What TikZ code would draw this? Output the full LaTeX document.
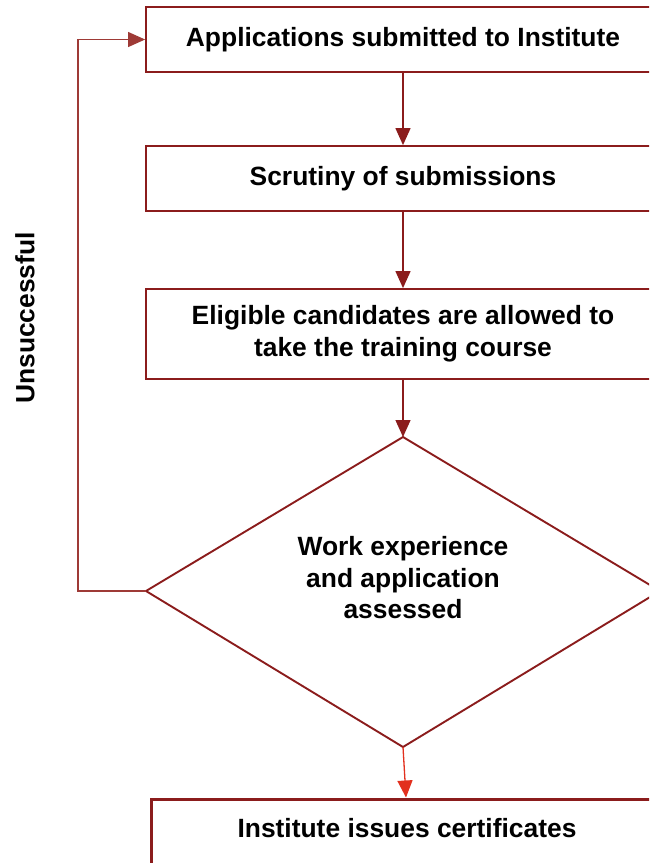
\documentclass[tikz,border=0pt]{standalone}
\usepackage{fontspec}
\setmainfont{Liberation Sans}
\usetikzlibrary{arrows.meta}
\definecolor{dred}{HTML}{8B1C1C}
\definecolor{lred}{HTML}{9E3A36}
\definecolor{bred}{HTML}{E2301E}
\tikzset{
  box/.style={draw=dred, line width=1.8pt, minimum width=514pt, inner sep=0pt, align=center, font=\bfseries\fontsize{26.4}{32}\selectfont, text=black},
  conn/.style={draw=dred, line width=1.3pt, -{Triangle[length=17pt,width=15pt]}},
  lbl/.style={font=\bfseries\fontsize{26.4}{31.5}\selectfont, text=black, align=center}
}
\begin{document}
\begin{tikzpicture}[x=1pt,y=-1pt]
\useasboundingbox (0,0) rectangle (649,863);
\clip (0,0) rectangle (649,863);
\node[box, minimum height=65pt] (b1) at (403,39.5) {Applications submitted to Institute};
\node[box, minimum height=65pt] (b2) at (403,178.5) {Scrutiny of submissions};
\node[box, minimum height=90pt] (b3) at (403,334) {Eligible candidates are allowed to\\take the training course};
\coordinate (dt) at (403,437);
\coordinate (dl) at (146,591);
\coordinate (db) at (403,747);
\coordinate (dr) at (660,591);
\draw[dred, line width=1.9pt] (dt) -- (dl) -- (db) -- (dr) -- cycle;
\node[lbl] (dtext) at (403,578) {Work experience\\and application\\assessed};
\node[box, line width=3pt, minimum height=100pt, draw=dred] (b4) at (408,849) {};
\node[lbl, anchor=base] (b4t) at (407,837) {Institute issues certificates};
\draw[conn] (b1) -- (b2);
\draw[conn] (b2) -- (b3);
\draw[conn] (b3.south) -- (dt);
\draw[draw=bred, line width=1.3pt, -{Triangle[length=17pt,width=15pt]}] (db) -- (b4.north -| 406,0);
\coordinate (c1) at (78,591);
\coordinate (c2) at (78,39.5);
\draw[draw=lred, line width=1.1pt, -{Triangle[length=17pt,width=15pt]}] (dl) -- (c1) -- (c2) -- (b1.west);
\node[lbl, rotate=90] (uns) at (25,318) {Unsuccessful};
\end{tikzpicture}
\end{document}
